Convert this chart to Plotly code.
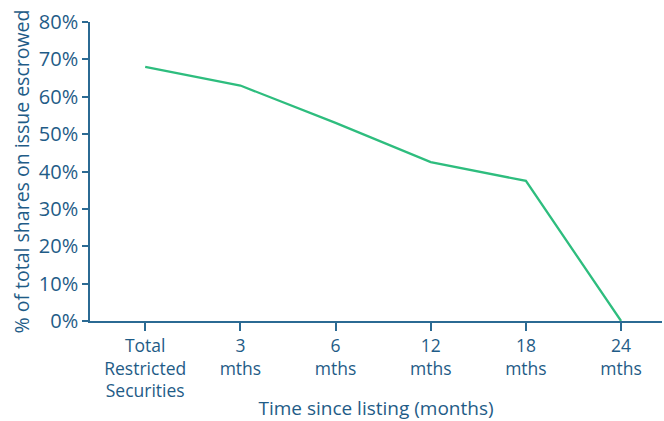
import plotly.graph_objects as go

categories = ["Total<br>Restricted<br>Securities", "3<br>mths", "6<br>mths", "12<br>mths", "18<br>mths", "24<br>mths"]
escrowed_pct = [68, 63, 53, 42.5, 37.5, 0]
y_ticks = [0, 10, 20, 30, 40, 50, 60, 70, 80]
y_tick_labels = [f"{v}%" for v in y_ticks]

text_col = "#1f5c87"
axis_col = "#2b6a93"
line_col = "#2ebd7e"
font_family = "'Open Sans', sans-serif"

fig = go.Figure()
fig.add_trace(go.Scatter(
    x=categories, y=escrowed_pct, mode="lines",
    line=dict(color=line_col, width=2.3),
    showlegend=False, hoverinfo="skip",
))

fig.update_layout(
    width=664, height=421,
    margin=dict(l=90, r=2, t=22, b=100),
    paper_bgcolor="white", plot_bgcolor="white",
    font=dict(family=font_family, color=text_col, size=18),
    xaxis=dict(
        type="category", range=[-0.58, 5.43], automargin=False,
        showline=True, linecolor=axis_col, linewidth=1.5,
        ticks="outside", ticklen=8, tickcolor=axis_col, tickwidth=1.5,
        showgrid=False, zeroline=False,
        tickfont=dict(size=17.5, color=text_col),
        title=dict(text="Time since listing (months)", font=dict(size=19, color=text_col), standoff=6),
    ),
    yaxis=dict(
        range=[0, 80], tickvals=y_ticks, ticktext=y_tick_labels, automargin=False,
        showline=True, linecolor=axis_col, linewidth=1.5,
        ticks="outside", ticklen=6, tickcolor=axis_col, tickwidth=1.5,
        showgrid=False, zeroline=False,
        tickfont=dict(size=20, color=text_col),
        title=dict(text="% of total shares on issue escrowed", font=dict(size=19.5, color=text_col), standoff=4),
    ),
)

fig.write_html(
    "out.html",
    config={"displayModeBar": False},
    post_script="document.body.style.margin='0';document.body.style.overflow='hidden';",
)
